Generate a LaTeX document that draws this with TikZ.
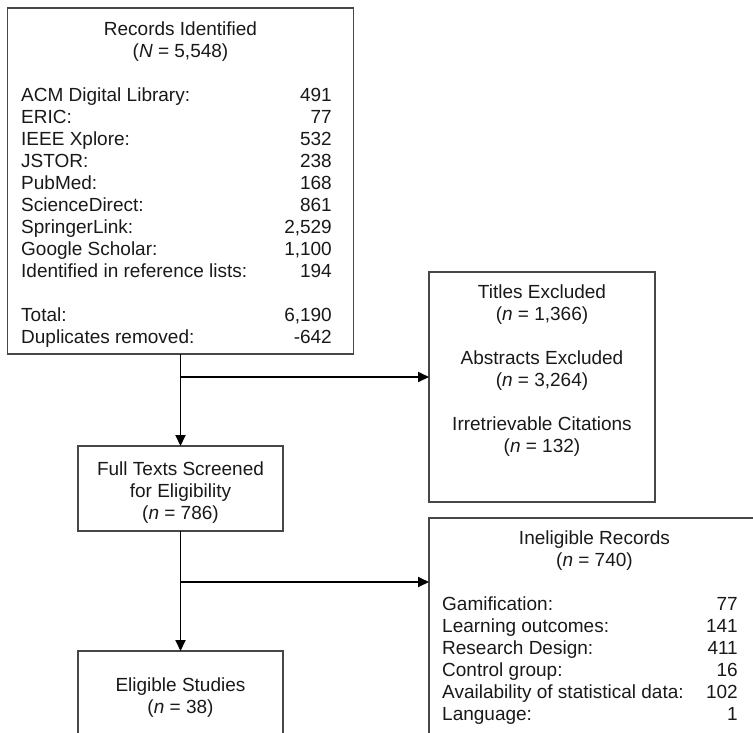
\documentclass[tikz,border=0pt]{standalone}
\usepackage{fontspec}
\setmainfont{Liberation Sans}
\usetikzlibrary{arrows.meta}
\begin{document}
\begin{tikzpicture}[x=1pt,y=-1pt,
  box/.style={draw=black!72,line width=1.2pt,inner sep=0pt,outer sep=0pt,fill=none},
  conn/.style={draw=black,line width=1.9pt,-{Triangle[length=11pt,width=10pt]}},
  txt/.style={inner sep=0pt,text=black!90,font=\fontsize{19}{22}\selectfont},
  lbl/.style={txt,anchor=base west},
  num/.style={txt,anchor=base east},
  ctr/.style={txt,anchor=base}]
\useasboundingbox (0,0) rectangle (753,732);
\clip (0,0) rectangle (753,732);
% boxes
\node[box,minimum width=346pt,minimum height=346pt] (rec) at (180.5,181) {};
\node[box,minimum width=226pt,minimum height=230pt] (titles) at (542,387) {};
\node[box,minimum width=205pt,minimum height=85pt] (full) at (180.5,488.5) {};
\node[box,minimum width=205pt,minimum height=90pt] (elig) at (180.5,696) {};
\node[box,minimum width=331pt,minimum height=242pt] (inel) at (594.5,639) {};
% records text
\node[ctr] (r1) at (180.5,35) {Records Identified};
\node[ctr] (r2) at (180.5,57) {(\textit{N} = 5,548)};
\node[lbl] (ra1) at (21,101) {ACM Digital Library:};
\node[lbl] (ra2) at (21,123) {ERIC:};
\node[lbl] (ra3) at (21,145) {IEEE Xplore:};
\node[lbl] (ra4) at (21,167) {JSTOR:};
\node[lbl] (ra5) at (21,189) {PubMed:};
\node[lbl] (ra6) at (21,211) {ScienceDirect:};
\node[lbl] (ra7) at (21,233) {SpringerLink:};
\node[lbl] (ra8) at (21,255) {Google Scholar:};
\node[lbl] (ra9) at (21,277) {Identified in reference lists:};
\node[lbl] (ra10) at (21,321) {Total:};
\node[lbl] (ra11) at (21,343) {Duplicates removed:};
\node[num] (rb1) at (332,101) {491};
\node[num] (rb2) at (332,123) {77};
\node[num] (rb3) at (332,145) {532};
\node[num] (rb4) at (332,167) {238};
\node[num] (rb5) at (332,189) {168};
\node[num] (rb6) at (332,211) {861};
\node[num] (rb7) at (332,233) {2,529};
\node[num] (rb8) at (332,255) {1,100};
\node[num] (rb9) at (332,277) {194};
\node[num] (rb10) at (332,321) {6,190};
\node[num] (rb11) at (332,343) {-642};
% titles excluded text
\node[ctr] (t1) at (542,298) {Titles Excluded};
\node[ctr] (t2) at (542,320) {(\textit{n} = 1,366)};
\node[ctr] (t3) at (542,364) {Abstracts Excluded};
\node[ctr] (t4) at (542,386) {(\textit{n} = 3,264)};
\node[ctr] (t5) at (542,430) {Irretrievable Citations};
\node[ctr] (t6) at (542,452) {(\textit{n} = 132)};
% full texts
\node[ctr] (f1) at (180.5,475) {Full Texts Screened};
\node[ctr] (f2) at (180.5,497) {for Eligibility};
\node[ctr] (f3) at (180.5,519) {(\textit{n} = 786)};
% eligible
\node[ctr] (e1) at (180.5,691) {Eligible Studies};
\node[ctr] (e2) at (180.5,713) {(\textit{n} = 38)};
% ineligible
\node[ctr] (i1) at (594.5,544) {Ineligible Records};
\node[ctr] (i2) at (594.5,566) {(\textit{n} = 740)};
\node[lbl] (ia1) at (442,610) {Gamification:};
\node[lbl] (ia2) at (442,632) {Learning outcomes:};
\node[lbl] (ia3) at (442,654) {Research Design:};
\node[lbl] (ia4) at (442,676) {Control group:};
\node[lbl] (ia5) at (442,698) {Availability of statistical data:};
\node[lbl] (ia6) at (442,720) {Language:};
\node[num] (ib1) at (738,610) {77};
\node[num] (ib2) at (738,632) {141};
\node[num] (ib3) at (738,654) {411};
\node[num] (ib4) at (738,676) {16};
\node[num] (ib5) at (738,698) {102};
\node[num] (ib6) at (738,720) {1};
% connectors
\coordinate (b1) at (180.5,377);
\coordinate (b2) at (180.5,582);
\draw[conn] (rec.south) -- (full.north);
\draw[conn] (b1) -- (b1 -| titles.west);
\draw[conn] (full.south) -- (elig.north);
\draw[conn] (b2) -- (b2 -| inel.west);
\end{tikzpicture}
\end{document}
